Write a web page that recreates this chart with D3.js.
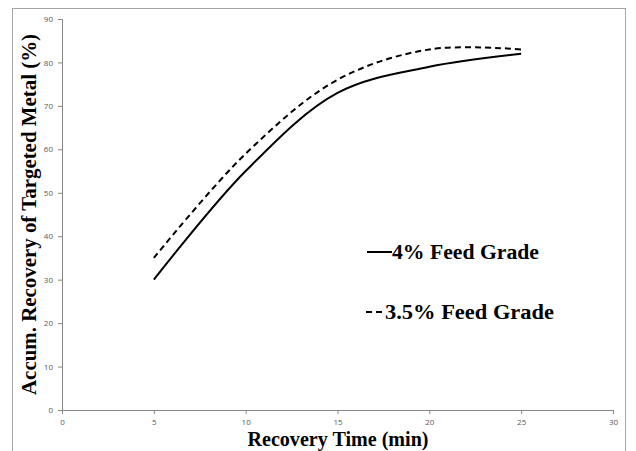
<!DOCTYPE html>
<html>
<head>
<meta charset="utf-8">
<script src="https://cdn.jsdelivr.net/npm/d3@7"></script>
<style>
  html, body { margin: 0; padding: 0; background: #fff; }
  svg { display: block; }
</style>
</head>
<body>
<svg id="chart" width="636" height="451"></svg>
<script>
const times = [5, 10, 15, 20, 25];
const grade4 = [30, 55, 73, 79, 82];
const grade35 = [35, 59, 76, 83, 83];
const seriesNames = ["4% Feed Grade", "3.5% Feed Grade"];
const xTicks = [0, 5, 10, 15, 20, 25, 30];
const yTicks = [0, 10, 20, 30, 40, 50, 60, 70, 80, 90];

const svg = d3.select("#chart");
const W = 636, H = 451;
const m = { left: 62, right: 23, top: 19, bottom: 41 };
const serif = "'Liberation Serif', 'Times New Roman', serif";

// outer frame
svg.append("rect")
  .attr("x", 12.5).attr("y", 8.5)
  .attr("width", 613).attr("height", 460)
  .attr("fill", "none").attr("stroke", "#a6a6a6").attr("stroke-width", 1);

const x = d3.scaleLinear().domain([0, 30]).range([m.left, W - m.right]);
const y = d3.scaleLinear().domain([0, 90]).range([H - m.bottom, m.top]);

const xAxis = svg.append("g")
  .attr("transform", `translate(0,${H - m.bottom})`)
  .call(d3.axisBottom(x).tickValues(xTicks).tickSize(4).tickPadding(5));
const yAxis = svg.append("g")
  .attr("transform", `translate(${m.left},0)`)
  .call(d3.axisLeft(y).tickValues(yTicks).tickSize(4).tickPadding(5));

[xAxis, yAxis].forEach(g => {
  g.selectAll(".domain").attr("stroke", "#868686");
  g.selectAll(".tick line").attr("stroke", "#868686");
  g.selectAll(".tick text")
    .attr("fill", "#595959")
    .style("font-family", "'Open Sans', 'Liberation Sans', sans-serif")
    .style("font-size", "8px");
});

const line = d3.line()
  .x(d => x(d[0]))
  .y(d => y(d[1]))
  .curve(d3.curveCatmullRom.alpha(0.5));

svg.append("path")
  .datum(times.map((t, i) => [t, grade4[i]]))
  .attr("d", line)
  .attr("fill", "none").attr("stroke", "#000").attr("stroke-width", 2);

svg.append("path")
  .datum(times.map((t, i) => [t, grade35[i]]))
  .attr("d", line)
  .attr("fill", "none").attr("stroke", "#000").attr("stroke-width", 2)
  .attr("stroke-dasharray", "6,4");

// legend
const legend = [
  { name: seriesNames[0], dash: null, yy: 252, x1: 367, x2: 392, tx: 392, tl: 147 },
  { name: seriesNames[1], dash: "6,4", yy: 312, x1: 366, x2: 382, tx: 385, tl: 169 }
];
legend.forEach(l => {
  svg.append("line")
    .attr("x1", l.x1).attr("x2", l.x2)
    .attr("y1", l.yy).attr("y2", l.yy)
    .attr("stroke", "#000").attr("stroke-width", 2)
    .attr("stroke-dasharray", l.dash);
  svg.append("text")
    .attr("x", l.tx).attr("y", l.yy + 7)
    .attr("textLength", l.tl).attr("lengthAdjust", "spacingAndGlyphs")
    .style("font-family", serif)
    .style("font-weight", "bold")
    .style("font-size", "20px")
    .text(l.name);
});

// axis titles
svg.append("text")
  .attr("x", 338).attr("y", 446)
  .attr("text-anchor", "middle")
  .attr("textLength", 181).attr("lengthAdjust", "spacingAndGlyphs")
  .style("font-family", serif)
  .style("font-weight", "bold").style("font-size", "20px")
  .text("Recovery Time (min)");

svg.append("text")
  .attr("transform", `translate(36,214.5) rotate(-90)`)
  .attr("text-anchor", "middle")
  .attr("textLength", 361).attr("lengthAdjust", "spacingAndGlyphs")
  .style("font-family", serif)
  .style("font-weight", "bold").style("font-size", "20px")
  .text("Accum. Recovery of Targeted Metal (%)");
</script>
</body>
</html>
